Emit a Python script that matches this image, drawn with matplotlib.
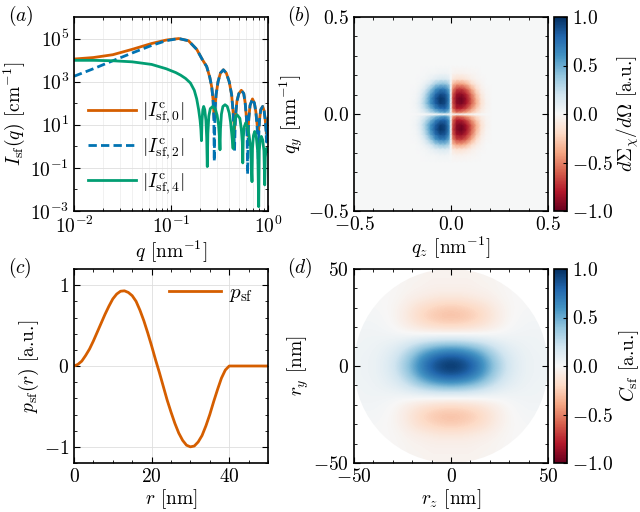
import numpy as np
import matplotlib
matplotlib.use("Agg")
import matplotlib.pyplot as plt
from matplotlib.patches import Circle
from matplotlib.ticker import MultipleLocator, FixedLocator, NullFormatter

plt.rcParams.update({
    "font.family": "serif",
    "font.serif": ["cmr10"],
    "mathtext.fontset": "cm",
    "axes.formatter.use_mathtext": True,
    "font.size": 14,
    "axes.linewidth": 1.2,
    "xtick.direction": "in",
    "ytick.direction": "in",
    "xtick.top": True,
    "ytick.right": True,
    "xtick.major.size": 4,
    "ytick.major.size": 4,
    "xtick.minor.size": 2,
    "ytick.minor.size": 2,
})

C_OR = "#d55e00"
C_BL = "#0173b2"
C_GR = "#029e73"

# ---- (a) scattering intensities, log10 values
lq_0 = [-2.0, -1.8, -1.6, -1.4, -1.2, -1.05, -0.92, -0.82, -0.735, -0.68, -0.632, -0.60, -0.58, -0.567, -0.554,
        -0.545, -0.535, -0.515, -0.49, -0.46, -0.43, -0.40, -0.375, -0.36, -0.345,
        -0.333, -0.32, -0.30, -0.275, -0.25, -0.235, -0.222, -0.21,
        -0.198, -0.185, -0.16, -0.14, -0.125, -0.112, -0.10,
        -0.088, -0.075, -0.055, -0.04, -0.028, -0.015, -0.008, 0.0]
lI_0 = [4.05, 4.12, 4.25, 4.5, 4.77, 4.93, 5.0, 4.9, 4.5, 4.05, 3.7, 3.2, 2.75, 2.2, 1.3,
        1.9, 2.4, 3.0, 3.4, 3.55, 3.4, 3.0, 2.4, 1.6, 0.8,
        1.5, 2.1, 2.45, 2.6, 2.45, 2.0, 1.3, 0.5,
        1.3, 1.9, 2.2, 2.0, 1.6, 1.0, 0.6,
        1.2, 1.7, 1.85, 1.65, 1.2, 0.6, 0.9, 1.3]

lq_2 = [-2.0, -1.8, -1.6, -1.4, -1.2, -1.05, -0.92, -0.82, -0.735, -0.68, -0.632, -0.60, -0.58, -0.567, -0.558, -0.554,
        -0.550, -0.545, -0.535, -0.515, -0.49, -0.46, -0.43, -0.40, -0.375, -0.36, -0.352, -0.345,
        -0.340, -0.333, -0.32, -0.30, -0.275, -0.25, -0.235, -0.222, -0.215, -0.21,
        -0.205, -0.198, -0.185, -0.16, -0.14, -0.125, -0.112, -0.105, -0.10,
        -0.095, -0.088, -0.075, -0.055, -0.04, -0.028, -0.02, -0.015, -0.008, 0.0]
lI_2 = [3.25, 3.6, 3.97, 4.33, 4.68, 4.9, 5.0, 4.9, 4.5, 4.05, 3.7, 3.2, 2.75, 2.2, 1.2, -0.7,
        0.8, 1.7, 2.4, 3.0, 3.4, 3.55, 3.4, 3.0, 2.4, 1.6, 0.8, -0.2,
        0.7, 1.5, 2.1, 2.45, 2.6, 2.45, 2.0, 1.3, 0.4, -1.3,
        0.4, 1.3, 1.9, 2.2, 2.0, 1.6, 0.9, 0.1, -0.8,
        0.5, 1.2, 1.7, 1.85, 1.65, 1.2, 0.7, 0.2, 0.9, 1.3]

lq_4 = [-2.0, -1.8, -1.6, -1.4, -1.2, -1.05, -0.95, -0.9, -0.85, -0.80, -0.76, -0.735, -0.715, -0.70, -0.692, -0.686,
        -0.68, -0.672, -0.663, -0.652, -0.64, -0.632, -0.626,
        -0.62, -0.61, -0.595, -0.57, -0.545, -0.525, -0.51, -0.50, -0.495,
        -0.49, -0.48, -0.465, -0.443, -0.42, -0.40, -0.385, -0.372, -0.36,
        -0.352, -0.34, -0.32, -0.29, -0.275, -0.265, -0.26,
        -0.255, -0.245, -0.23, -0.21, -0.195, -0.18, -0.165,
        -0.16, -0.15, -0.137, -0.12, -0.105, -0.096,
        -0.09, -0.08, -0.069, -0.055, -0.042, -0.034,
        -0.028, -0.018, -0.008, 0.0]
lI_4 = [3.99, 3.99, 3.97, 3.92, 3.8, 3.6, 3.42, 3.3, 3.15, 2.94, 2.6, 2.2, 1.7, 1.2, 0.8, 0.26,
        1.2, 1.7, 1.85, 1.7, 1.2, 0.4, -0.94,
        0.6, 1.4, 1.75, 1.85, 1.75, 1.45, 1.0, 0.4, -0.16,
        0.8, 1.5, 1.85, 1.93, 1.85, 1.55, 1.1, 0.5, -0.1,
        0.8, 1.3, 1.47, 1.3, 0.8, 0.2, -0.77,
        0.4, 0.9, 1.09, 0.9, 0.5, 0.0, -1.64,
        -0.1, 0.5, 0.69, 0.4, -0.3, -2.8,
        -0.2, 0.3, 0.46, 0.3, -0.2, -1.79,
        -0.5, -0.1, -0.1, -0.24]

# ---- (b) one quadrant of the 2D cross section (qz>=0, qy>=0), magnitude
q_nodes = [0.0, 0.01, 0.03, 0.055, 0.08, 0.105, 0.13, 0.155, 0.18, 0.21, 0.25]
sq_quad = np.array([
    [0, 0.00, 0.00, 0.00, 0.00, 0.00, 0.00, 0.00, 0.00, 0, 0],
    [0, 0.40, 0.55, 0.50, 0.40, 0.28, 0.16, 0.07, 0.02, 0, 0],
    [0, 0.60, 0.80, 0.78, 0.65, 0.45, 0.26, 0.11, 0.03, 0, 0],
    [0, 0.65, 0.90, 0.95, 0.82, 0.60, 0.36, 0.15, 0.04, 0, 0],
    [0, 0.68, 0.92, 0.98, 0.85, 0.60, 0.34, 0.14, 0.03, 0, 0],
    [0, 0.62, 0.85, 0.88, 0.75, 0.52, 0.28, 0.10, 0.02, 0, 0],
    [0, 0.50, 0.68, 0.70, 0.58, 0.38, 0.18, 0.06, 0.01, 0, 0],
    [0, 0.32, 0.42, 0.42, 0.34, 0.20, 0.09, 0.03, 0.00, 0, 0],
    [0, 0.12, 0.16, 0.16, 0.12, 0.07, 0.03, 0.01, 0.00, 0, 0],
    [0, 0.03, 0.04, 0.04, 0.03, 0.02, 0.01, 0.00, 0.00, 0, 0],
    [0, 0.00, 0.00, 0.00, 0.00, 0.00, 0.00, 0.00, 0.00, 0, 0],
])

# ---- (c) radial profile
r_nm = [0, 1, 2, 3, 4, 5, 6, 7, 8, 9, 10, 11, 12, 13, 14, 15, 16, 17, 18, 19, 20,
        21, 22, 23, 24, 25, 26, 27, 28, 29, 30, 31, 32, 33, 34, 35, 36, 37, 38, 39, 40, 50]
p_sf = [0.0, 0.02, 0.06, 0.13, 0.21, 0.31, 0.42, 0.53, 0.64, 0.74, 0.83, 0.89, 0.925, 0.93, 0.91,
        0.87, 0.80, 0.69, 0.56, 0.41, 0.25, 0.08, -0.08, -0.25, -0.42, -0.57, -0.71, -0.83, -0.92,
        -0.98, -1.0, -0.99, -0.94, -0.86, -0.74, -0.60, -0.44, -0.29, -0.15, -0.05, 0.0, 0.0]

# ---- (d) one quadrant of the correlation function (rz>=0, ry>=0)
r_step = 5.0
c_quad = np.array([
    [1.00, 0.96, 0.86, 0.70, 0.50, 0.32, 0.18, 0.10, 0.06, 0.05, 0.04],
    [0.85, 0.82, 0.73, 0.60, 0.42, 0.27, 0.15, 0.09, 0.06, 0.05, 0.04],
    [0.50, 0.48, 0.43, 0.35, 0.25, 0.16, 0.10, 0.07, 0.05, 0.04, 0.04],
    [0.08, 0.08, 0.07, 0.06, 0.05, 0.04, 0.04, 0.04, 0.04, 0.04, 0.03],
    [-0.18, -0.17, -0.15, -0.12, -0.08, -0.04, 0.00, 0.02, 0.03, 0.03, 0.03],
    [-0.30, -0.29, -0.26, -0.21, -0.14, -0.07, -0.02, 0.01, 0.02, 0.02, 0.02],
    [-0.26, -0.25, -0.22, -0.18, -0.12, -0.06, -0.02, 0.00, 0.01, 0.01, 0.01],
    [-0.12, -0.12, -0.10, -0.08, -0.06, -0.03, -0.01, 0.00, 0.00, 0.00, 0.00],
    [-0.05, -0.05, -0.05, -0.04, -0.03, -0.02, -0.01, 0.00, 0.00, 0.00, 0.00],
    [-0.04, -0.04, -0.04, -0.03, -0.03, -0.02, 0.00, 0.00, 0.00, 0.00, 0.00],
    [-0.03, -0.03, -0.03, -0.03, -0.02, 0.00, 0.00, 0.00, 0.00, 0.00, 0.00],
])

W, H = 640, 512
fig = plt.figure(figsize=(6.4, 5.12), dpi=100)


def box(l, t, w=194, h=194):
    return [l / W, 1 - (t + h) / H, w / W, h / H]


ax_a = fig.add_axes(box(74, 17))
ax_b = fig.add_axes(box(354, 17))
cax_b = fig.add_axes(box(554, 17, 13))
ax_c = fig.add_axes(box(74, 269))
ax_d = fig.add_axes(box(354, 269))
cax_d = fig.add_axes(box(554, 269, 13))

# (a)
ax_a.plot(10 ** np.array(lq_0), 10 ** np.array(lI_0), color=C_OR, lw=2,
          label=r"$|I^{\mathrm{c}}_{\mathrm{sf},0}|$")
ax_a.plot(10 ** np.array(lq_2), 10 ** np.array(lI_2), color=C_BL, lw=2, ls="--", dashes=(3, 1.5),
          label=r"$|I^{\mathrm{c}}_{\mathrm{sf},2}|$")
ax_a.plot(10 ** np.array(lq_4), 10 ** np.array(lI_4), color=C_GR, lw=2,
          label=r"$|I^{\mathrm{c}}_{\mathrm{sf},4}|$")
ax_a.set_xscale("log")
ax_a.set_yscale("log")
ax_a.set_xlim(1e-2, 1)
ax_a.set_ylim(1e-3, 1e6)
ax_a.yaxis.set_major_locator(FixedLocator([1e-3, 1e-1, 1e1, 1e3, 1e5]))
ax_a.yaxis.set_minor_locator(FixedLocator([1e-2, 1e0, 1e2, 1e4]))
ax_a.yaxis.set_minor_formatter(NullFormatter())
ax_a.grid(True, which="major", color="0.87", lw=0.6)
ax_a.grid(True, which="minor", axis="x", color="0.92", lw=0.5)
ax_a.set_xlabel(r"$q$ [nm$^{-1}$]", labelpad=1)
ax_a.set_ylabel(r"$I_{\mathrm{sf}}(q)$ [cm$^{-1}$]", labelpad=2)
ax_a.legend(loc="center left", bbox_to_anchor=(0.0, 0.32), frameon=False,
            handlelength=2.5, labelspacing=0.5, handletextpad=0.3, borderaxespad=0.3)

# (b)
qn = np.array(q_nodes)
q_full = np.concatenate([-qn[:0:-1], qn])
upper = np.hstack([sq_quad[:, :0:-1], -sq_quad])
sq_full = np.vstack([upper[:0:-1], upper])
QZ, QY = np.meshgrid(q_full, q_full)
im_b = ax_b.pcolormesh(QZ, QY, sq_full, shading="gouraud", cmap="RdBu", vmin=-1, vmax=1)
ax_b.set_facecolor(plt.cm.RdBu(0.5))
ax_b.set_xlim(-0.5, 0.5)
ax_b.set_ylim(-0.5, 0.5)
ax_b.set_xticks([-0.5, 0.0, 0.5])
ax_b.set_yticks([-0.5, 0.0, 0.5])
ax_b.xaxis.set_minor_locator(MultipleLocator(0.1))
ax_b.yaxis.set_minor_locator(MultipleLocator(0.1))
ax_b.set_xlabel(r"$q_z$ [nm$^{-1}$]", labelpad=1)
ax_b.set_ylabel(r"$q_y$ [nm$^{-1}$]", labelpad=2)
cb_b = fig.colorbar(im_b, cax=cax_b, ticks=[-1, -0.5, 0, 0.5, 1])
cb_b.set_label(r"$d\Sigma_\chi/d\Omega$ [a.u.]", labelpad=1)
cax_b.tick_params(direction="in", length=3, right=True)

# (c)
ax_c.plot(r_nm, p_sf, color=C_OR, lw=2, label=r"$p_{\mathrm{sf}}$")
ax_c.set_xlim(0, 50)
ax_c.set_ylim(-1.2, 1.2)
ax_c.set_xticks([0, 20, 40])
ax_c.set_yticks([-1, 0, 1])
ax_c.xaxis.set_minor_locator(MultipleLocator(5))
ax_c.yaxis.set_minor_locator(MultipleLocator(0.2))
ax_c.grid(True, which="major", color="0.87", lw=0.6)
ax_c.set_xlabel(r"$r$ [nm]", labelpad=1)
ax_c.set_ylabel(r"$p_{\mathrm{sf}}(r)$ [a.u.]", labelpad=2)
ax_c.legend(loc="upper right", frameon=False, handlelength=2.5, handletextpad=0.4,
            borderaxespad=0.3, fontsize=15)

# (d)
upper_d = np.hstack([c_quad[:, :0:-1], c_quad])
c_full = np.vstack([upper_d[:0:-1], upper_d])
n_r = c_quad.shape[0] - 1
ext_r = (n_r + 0.5) * r_step
im_d = ax_d.imshow(c_full, origin="lower", extent=[-ext_r, ext_r, -ext_r, ext_r],
                   cmap="RdBu", vmin=-1, vmax=1, interpolation="bicubic")
im_d.set_clip_path(Circle((0, 0), 50, transform=ax_d.transData))
ax_d.set_xlim(-50, 50)
ax_d.set_ylim(-50, 50)
ax_d.set_xticks([-50, 0, 50])
ax_d.set_yticks([-50, 0, 50])
ax_d.xaxis.set_minor_locator(MultipleLocator(10))
ax_d.yaxis.set_minor_locator(MultipleLocator(10))
ax_d.set_xlabel(r"$r_z$ [nm]", labelpad=1)
ax_d.set_ylabel(r"$r_y$ [nm]", labelpad=2)
cb_d = fig.colorbar(im_d, cax=cax_d, ticks=[-1, -0.5, 0, 0.5, 1])
cb_d.set_label(r"$C_{\mathrm{sf}}$ [a.u.]", labelpad=3)
cax_d.tick_params(direction="in", length=3, right=True)

for lab, x, y in [("a", 8, 4), ("b", 287, 4), ("c", 8, 256), ("d", 287, 256)]:
    fig.text(x / W, 1 - y / H, r"$(%s)$" % lab, ha="left", va="top", fontsize=14)

fig.savefig("out.png", dpi=100)
